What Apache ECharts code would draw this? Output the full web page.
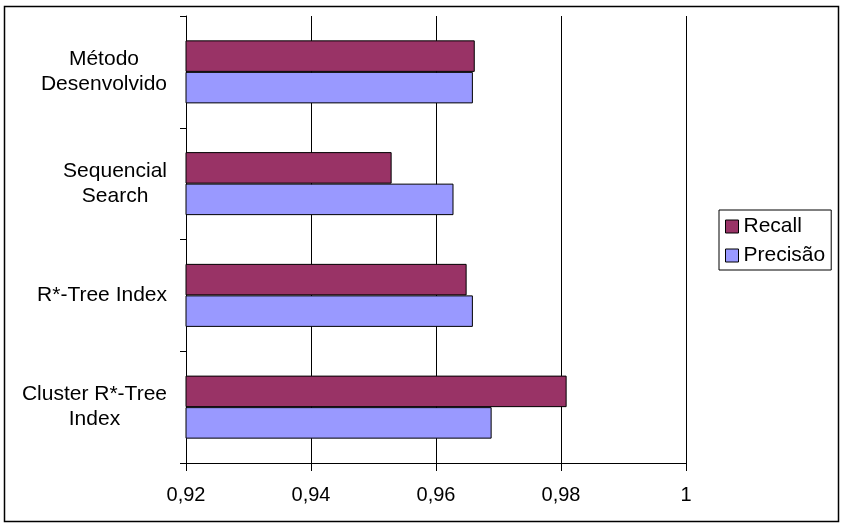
<!DOCTYPE html>
<html>
<head>
<meta charset="utf-8">
<script src="https://cdn.jsdelivr.net/npm/echarts@6/dist/echarts.min.js"></script>
<style>html,body{margin:0;padding:0;background:#fff;}#c{width:844px;height:530px;}</style>
</head>
<body>
<div id="c"></div>
<script>
const categories = ['Método\nDesenvolvido', 'Sequencial\nSearch', 'R*-Tree Index', 'Cluster R*-Tree\nIndex'];
const seriesNames = ['Recall', 'Precisão'];
const recall = [0.9662, 0.9529, 0.9649, 0.9809];
const precisao = [0.9659, 0.9628, 0.9659, 0.9689];
const xMin = 0.92, xMax = 1, xStep = 0.02;

const FONT = '"Liberation Sans", Arial, sans-serif';
const chart = echarts.init(document.getElementById('c'), null, {renderer: 'canvas'});
chart.setOption({
  animation: false,
  backgroundColor: '#fff',
  graphic: [{
    type: 'rect', shape: {x: 4.5, y: 6.5, width: 834, height: 515},
    style: {fill: 'none', stroke: '#000', lineWidth: 1.5}, silent: true
  }],
  grid: {left: 186, right: 158, top: 16, bottom: 67, containLabel: false},
  legend: {
    orient: 'vertical', left: 719, top: 210,
    data: seriesNames,
    icon: 'rect', itemWidth: 13, itemHeight: 13, itemGap: 8, itemTextGap: 8,
    padding: [6, 6, 4, 6],
    borderColor: '#000', borderWidth: 1,
    textStyle: {fontFamily: FONT, fontSize: 21, color: '#000'},
    itemStyle: {borderColor: '#000', borderWidth: 1}
  },
  xAxis: {
    type: 'value', min: xMin, max: xMax, interval: xStep,
    axisLine: {show: true, lineStyle: {color: '#000', width: 1}},
    axisTick: {show: true, length: 8, lineStyle: {color: '#000'}},
    splitLine: {show: true, lineStyle: {color: '#000', width: 1}},
    axisLabel: {
      margin: 22, fontFamily: FONT, fontSize: 20, color: '#000',
      formatter: v => (Math.abs(v - 1) < 1e-9 ? '1' : v.toFixed(2).replace('.', ','))
    }
  },
  yAxis: {
    type: 'category', data: categories, inverse: true,
    axisLine: {show: true, lineStyle: {color: '#000', width: 1}},
    axisTick: {show: true, length: 6, lineStyle: {color: '#000'}},
    splitLine: {show: false},
    axisLabel: {
      margin: 19, align: 'right', color: '#000', fontFamily: FONT, fontSize: 21, lineHeight: 25,
      formatter: v => v.split('\n').map(l => '{c|' + l + '}').join('\n'),
      rich: {c: {align: 'center', fontFamily: FONT, fontSize: 21, lineHeight: 25, color: '#000'}}
    }
  },
  series: [
    {name: seriesNames[0], type: 'bar', data: recall, barGap: '0%', barCategoryGap: '43.6%',
     itemStyle: {color: '#993366', borderColor: '#000', borderWidth: 1}},
    {name: seriesNames[1], type: 'bar', data: precisao, barGap: '0%', barCategoryGap: '43.6%',
     itemStyle: {color: '#9999FF', borderColor: '#000', borderWidth: 1}}
  ]
});
</script>
</body>
</html>
